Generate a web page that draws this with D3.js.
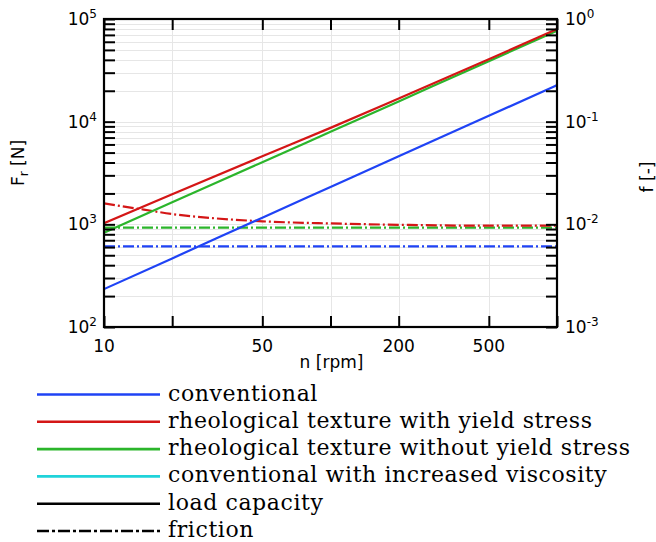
<!DOCTYPE html>
<html>
<head>
<meta charset="utf-8">
<script src="https://cdn.jsdelivr.net/npm/d3@7"></script>
<style>
  html, body { margin: 0; padding: 0; background: #fff; }
  svg { display: block; }
</style>
</head>
<body>
<svg id="chart" width="656" height="542"></svg>
<script>
// Rotational speed samples [rpm]
const speed = [10, 20, 50, 100, 200, 500, 1000];
const speedFine = [10, 15, 20, 30, 50, 100, 200, 500, 1000];

// Load capacity F_r [N]
const loadConventional = [234, 466, 1160, 2310, 4600, 11400, 22700];
const loadYieldStress = [1023, 1960, 4600, 8700, 16800, 40500, 79800];
const loadNoYieldStress = [828, 1637, 4030, 7970, 15760, 38800, 76900];

// Friction coefficient f [-]
const frictionConventional = [0.0061, 0.0061, 0.0061, 0.0061, 0.0061, 0.0061, 0.0061];
const frictionYieldStress = [0.0160, 0.0139, 0.0126, 0.0115, 0.0107, 0.0102, 0.0099, 0.0097, 0.0097];
const frictionNoYieldStress = [0.0093, 0.0093, 0.0093, 0.0093, 0.0093, 0.0093, 0.0093];

// Axis ticks
const xTicks = [10, 20, 50, 100, 200, 500, 1000];
const xTickLabels = ["10", "", "50", "", "200", "500", ""];
const leftDecades = [2, 3, 4, 5];
const rightDecades = [-3, -2, -1, 0];

// Legend
const legendLabels = [
  "conventional",
  "rheological texture with yield stress",
  "rheological texture without yield stress",
  "conventional with increased viscosity",
  "load capacity",
  "friction"
];
const legendColors = ["#1f43f5", "#d41616", "#2bb52b", "#1fd3da", "#000000", "#000000"];
const legendDashed = [false, false, false, false, false, true];

const colBlue = "#1f43f5", colRed = "#d41616", colGreen = "#2bb52b";
const dashDot = "11,3,2,3";

const svg = d3.select("#chart");
const L = 104, R = 557, T = 19, B = 327;

const x = d3.scaleLog().domain([10, 1000]).range([L, R]);
const yL = d3.scaleLog().domain([1e2, 1e5]).range([B, T]);
const yR = d3.scaleLog().domain([1e-3, 1]).range([B, T]);

const axisFont = "'DejaVu Sans', sans-serif";

// minor + major positions on the load axis
const yMinor = [];
for (let e = 2; e < 5; e++) for (let m = 1; m <= 9; m++) yMinor.push(m * Math.pow(10, e));
yMinor.push(1e5);

// grid
const grid = svg.append("g").attr("stroke", "#e6e6e6").attr("stroke-width", 1);
grid.selectAll("line.h").data(yMinor.filter(v => v > 1e2 && v < 1e5)).join("line")
  .attr("class", "h")
  .attr("x1", L).attr("x2", R)
  .attr("y1", d => Math.round(yL(d)) + 0.5).attr("y2", d => Math.round(yL(d)) + 0.5);
grid.selectAll("line.v").data(xTicks.filter(v => v > 10 && v < 1000)).join("line")
  .attr("class", "v")
  .attr("y1", T).attr("y2", B)
  .attr("x1", d => Math.round(x(d)) + 0.5).attr("x2", d => Math.round(x(d)) + 0.5);

// data lines
const clip = svg.append("clipPath").attr("id", "plotclip");
clip.append("rect").attr("x", L).attr("y", T).attr("width", R - L).attr("height", B - T);
const plot = svg.append("g").attr("clip-path", "url(#plotclip)");

function drawLine(xs, ys, yScale, color, dashed) {
  const line = d3.line()
    .x((d, i) => x(xs[i]))
    .y(d => yScale(d))
    .curve(d3.curveMonotoneX);
  plot.append("path")
    .attr("d", line(ys))
    .attr("fill", "none")
    .attr("stroke", color)
    .attr("stroke-width", 2.2)
    .attr("stroke-dasharray", dashed ? dashDot : null);
}

drawLine(speed, frictionConventional, yR, colBlue, true);
drawLine(speed, frictionNoYieldStress, yR, colGreen, true);
drawLine(speedFine, frictionYieldStress, yR, colRed, true);
drawLine(speed, loadConventional, yL, colBlue, false);
drawLine(speed, loadNoYieldStress, yL, colGreen, false);
drawLine(speed, loadYieldStress, yL, colRed, false);

// axes
const axes = svg.append("g");
const tickLen = 11;

const leftAxis = d3.axisRight(yL).tickValues(yMinor).tickSize(tickLen).tickFormat("");
axes.append("g").attr("transform", `translate(${L},0)`).call(leftAxis);
const rightAxis = d3.axisLeft(yL).tickValues(yMinor).tickSize(tickLen).tickFormat("");
axes.append("g").attr("transform", `translate(${R},0)`).call(rightAxis);
const bottomAxis = d3.axisTop(x).tickValues(xTicks).tickSize(tickLen).tickFormat("");
axes.append("g").attr("transform", `translate(0,${B})`).call(bottomAxis);
const topAxis = d3.axisBottom(x).tickValues(xTicks).tickSize(tickLen).tickFormat("");
axes.append("g").attr("transform", `translate(0,${T})`).call(topAxis);

axes.selectAll(".domain").remove();
axes.selectAll(".tick line").attr("stroke", "#000").attr("stroke-width", 2);

axes.append("rect")
  .attr("x", L).attr("y", T).attr("width", R - L).attr("height", B - T)
  .attr("fill", "none").attr("stroke", "#000").attr("stroke-width", 2.2);

// x tick labels
svg.append("g").selectAll("text").data(xTicks.map((v, i) => ({ v, t: xTickLabels[i] })).filter(d => d.t))
  .join("text")
  .attr("x", d => x(d.v)).attr("y", 352)
  .attr("text-anchor", "middle")
  .attr("font-family", axisFont).attr("font-size", 17)
  .text(d => d.t);

// power-of-ten labels
function powerLabel(g, xPos, yPos, exp, anchor) {
  const t = g.append("text")
    .attr("x", xPos).attr("y", yPos + 6)
    .attr("text-anchor", anchor)
    .attr("font-family", axisFont).attr("font-size", 17);
  t.append("tspan").text("10");
  t.append("tspan").attr("font-size", 12).attr("dy", -7).text(exp);
}
const lg = svg.append("g");
leftDecades.forEach(e => powerLabel(lg, 97, yL(Math.pow(10, e)), String(e), "end"));
const rg = svg.append("g");
rightDecades.forEach(e => powerLabel(rg, 565, yR(Math.pow(10, e)), String(e), "start"));

// axis titles
svg.append("text")
  .attr("x", (L + R) / 2 + 1).attr("y", 368)
  .attr("text-anchor", "middle")
  .attr("font-family", axisFont).attr("font-size", 17)
  .text("n [rpm]");

const yTitle = svg.append("text")
  .attr("transform", "translate(24,163) rotate(-90)")
  .attr("text-anchor", "middle")
  .attr("font-family", axisFont).attr("font-size", 17);
yTitle.append("tspan").text("F");
yTitle.append("tspan").attr("font-size", 12).attr("dy", 4).text("r");
yTitle.append("tspan").attr("dy", -4).text(" [N]");

svg.append("text")
  .attr("transform", "translate(653,177) rotate(-90)")
  .attr("text-anchor", "middle")
  .attr("font-family", axisFont).attr("font-size", 17)
  .text("f [-]");

// legend
const legend = svg.append("g");
const rowY = d3.scaleLinear().domain([0, 5]).range([394.5, 531]);
legendLabels.forEach((label, i) => {
  const yy = rowY(i);
  legend.append("line")
    .attr("x1", 37).attr("x2", 160).attr("y1", yy).attr("y2", yy)
    .attr("stroke", legendColors[i]).attr("stroke-width", 2.6)
    .attr("stroke-dasharray", legendDashed[i] ? "12,3,3,3" : null);
  legend.append("text")
    .attr("x", 168).attr("y", yy + 6)
    .attr("font-family", "'DejaVu Serif', serif").attr("font-size", 22)
    .attr("letter-spacing", 0.6)
    .text(label);
});
</script>
</body>
</html>
